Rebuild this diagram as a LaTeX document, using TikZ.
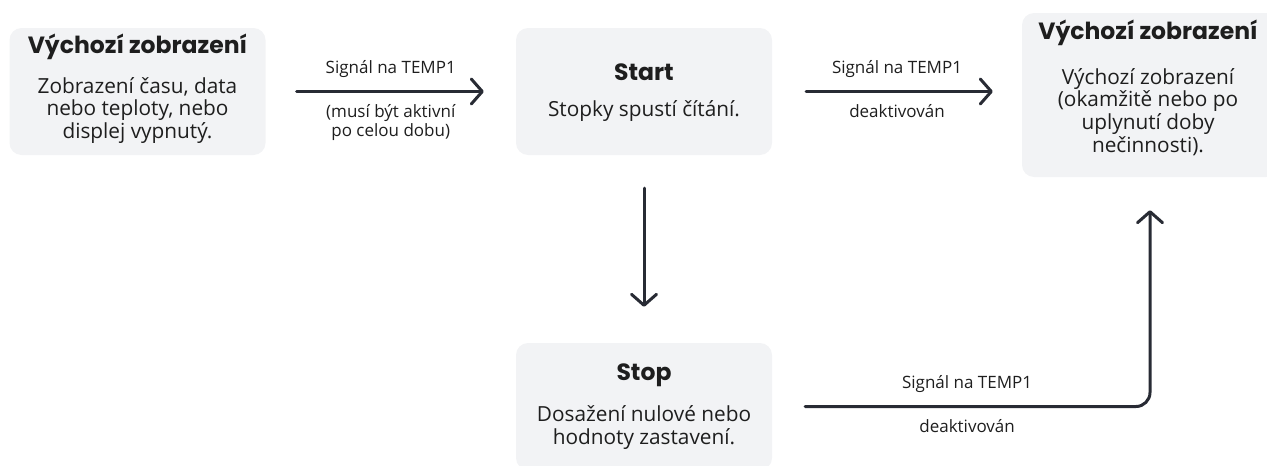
\documentclass[tikz,border=0pt]{standalone}
\usepackage{fontspec}
\setmainfont{Open Sans}
\newfontfamily\headfont{Poppins}
\usetikzlibrary{arrows.meta,positioning}
\definecolor{boxgray}{RGB}{242,243,245}
\definecolor{inkdark}{RGB}{40,43,52}
\definecolor{textdark}{RGB}{30,30,30}

\begin{document}
\begin{tikzpicture}[
	x=1pt, y=-1pt,
	panel/.style={fill=boxgray, rounded corners=12pt, minimum width=256pt, inner sep=0pt},
	heading/.style={font=\headfont\bfseries\fontsize{23.5}{27}\selectfont, text=textdark},
	body/.style={font=\fontsize{20.8}{22.8}\selectfont, text=textdark, align=center},
	lbl/.style={font=\fontsize{17}{19.5}\selectfont, text=textdark, align=center},
	flow/.style={draw=inkdark, line width=3pt, line cap=round, -{Straight Barb[length=11pt,width=25pt,line cap=round,line join=round]}}
	]
	\useasboundingbox (0,0) rectangle (1267,466);
	
	\node[panel, minimum height=127pt] (idle) at (137.5,91.5) {};
	\node[heading] (idleT) at ([yshift=-19pt]idle.north) {Výchozí zobrazení};
	\node[body] (idleB) at ([yshift=-19pt]idle.center) {Zobrazení času, data\\nebo teploty, nebo\\displej vypnutý.};
	
	\node[panel, minimum height=127pt] (run) at (644,91.5) {};
	\node[heading] (runT) at ([yshift=-44pt]run.north) {Start};
	\node[body] (runB) at ([yshift=-20pt]run.center) {Stopky spustí čítání.};
	
	\node[panel, minimum height=164pt] (back) at (1150,95) {};
	\node[heading] (backT) at ([yshift=-20pt,xshift=-2pt]back.north) {Výchozí zobrazení};
	\node[body] (backB) at ([yshift=-17pt,xshift=-2pt]back.center) {Výchozí zobrazení\\(okamžitě nebo po\\uplynutí doby\\nečinnosti).};
	
	\node[panel, minimum height=127pt] (halt) at (644,406.5) {};
	\node[heading] (haltT) at ([yshift=-32pt]halt.north) {Stop};
	\node[body] (haltB) at ([yshift=-21pt]halt.center) {Dosažení nulové nebo\\hodnoty zastavení.};
	
	\draw[flow, shorten <=31pt, shorten >=32pt] (idle) -- node[lbl, above=9pt] (a1T) {Signál na TEMP1} node[lbl, below=8pt] (a1B) {(musí být aktivní\\po celou dobu)} (run);
	\draw[flow, shorten <=34pt, shorten >=29pt] (run.east) -- node[lbl, above=9pt] (a2T) {Signál na TEMP1} node[lbl, below=8pt] (a2B) {deaktivován} (run.east -| back.west);
	\draw[flow, shorten <=33pt, shorten >=36pt] (run) -- (halt);
	\draw[flow, rounded corners=14pt, shorten <=33pt, shorten >=33pt] (halt.east) -- node[lbl, above=9pt, xshift=6pt] (a4T) {Signál na TEMP1} node[lbl, below=8pt, xshift=6pt] (a4B) {deaktivován} (halt.east -| back.south) -- (back.south);
\end{tikzpicture}
\end{document}
